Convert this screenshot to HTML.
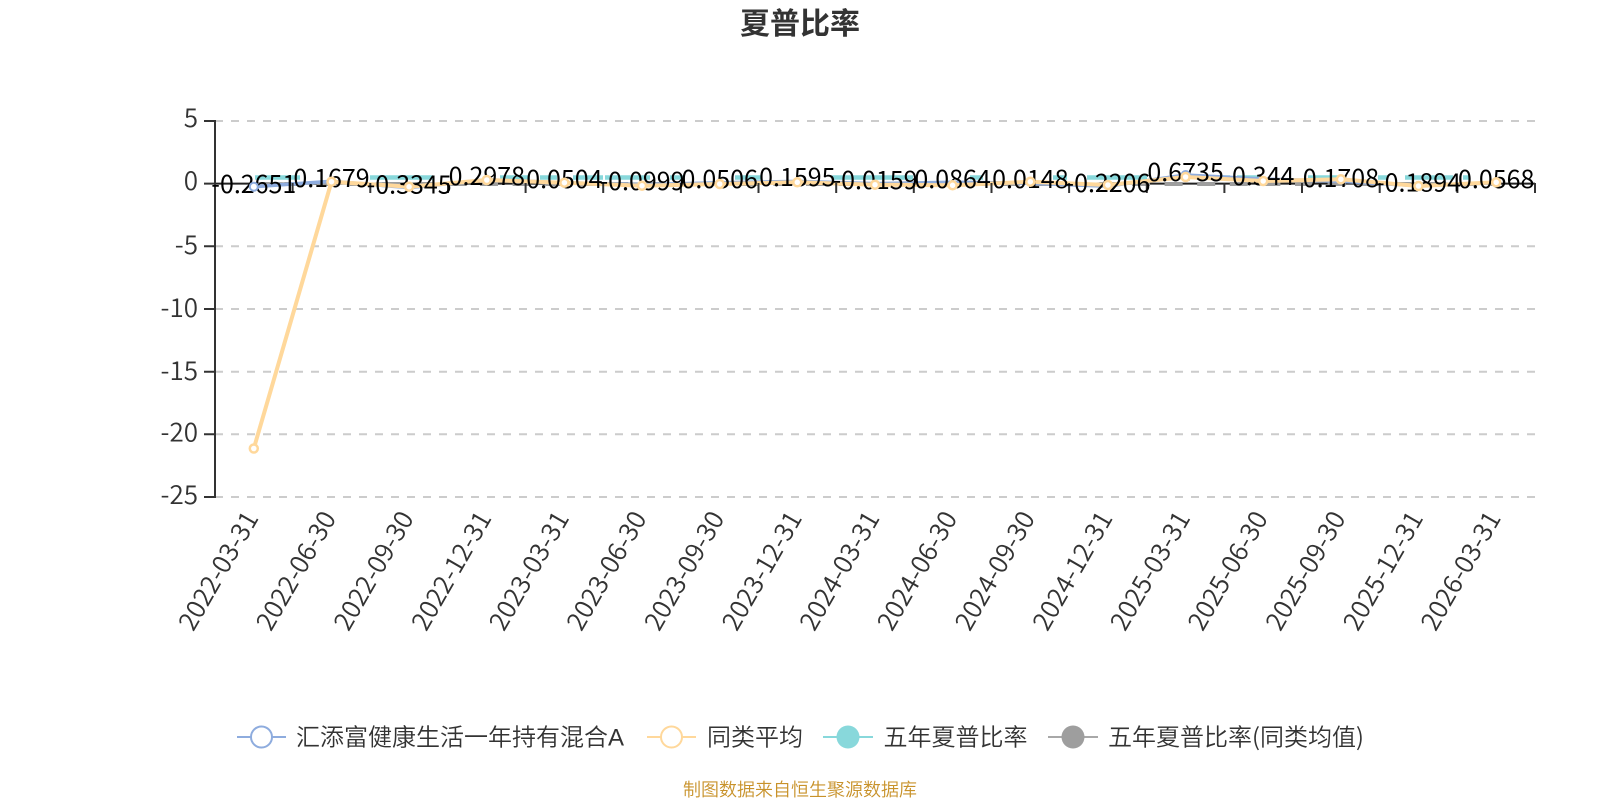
<!DOCTYPE html>
<html><head><meta charset="utf-8"><style>
html,body{margin:0;padding:0;background:#fff}
svg{display:block}
text{font-family:"Liberation Sans","Noto Sans CJK SC",sans-serif}
.n{font-family:"Noto Sans CJK SC",sans-serif;font-size:26px}
.y{fill:#333;text-anchor:end;font-weight:350}
.x{fill:#333;text-anchor:end;font-weight:350}
.l{fill:#000;text-anchor:middle;font-size:25px}
.g{font-family:"Noto Sans CJK SC",sans-serif;font-size:24px;fill:#333;font-weight:350}
</style></head><body>
<svg width="1600" height="800" viewBox="0 0 1600 800" xmlns="http://www.w3.org/2000/svg">
<rect width="1600" height="800" fill="#fff"/>
<text x="800" y="34" text-anchor="middle" style='font-family:"Noto Sans CJK SC",sans-serif;font-size:30px;font-weight:700' fill="#333">夏普比率</text>
<g stroke="#ccc" stroke-width="2" stroke-dasharray="8 8">
<path d="M215 121H1535M215 246.3H1535M215 309H1535M215 371.7H1535M215 434.3H1535M215 497H1535"/>
</g>
<path d="M215 183.6H1535" stroke="#222" stroke-width="2"/>
<g fill="none" stroke-linejoin="round">
<path d="M255 177.5H300M370 177.5H433M500 177.5H530M540 177.5H557M573 177.5H603M605 177.5H650M670 177.5H683M735 177.5H761M832 177.5H913M970 177.5H983M1053 177.5H1067M1087 177.5H1147M1223 177.5H1230M1237 177.5H1258M1308 177.5H1340M1378 177.5H1388M1405 177.5H1453M1463 177.5H1470" stroke="#88d8db" stroke-width="4.5"/>
<path d="M253.8 184H1496" stroke="#9e9e9e" stroke-width="4" stroke-dasharray="18 14.6" stroke-dashoffset="2"/>
<path d="M253.8 186.7L331.5 181.3L409.1 187.6L486.8 179.7L564.4 182.8L642 184.6L719.7 182.8L797.3 181.4L875 183.6L952.6 182.3L1030.3 183.2L1107.9 186.2L1185.6 175L1263.2 179.1L1340.9 181.3L1418.5 185.8L1496.2 182.7" stroke="#8eacde" stroke-width="3.5"/>
<path d="M253.8 448.5L331.5 181.7L409.1 186.7L486.8 180L564.4 182.7L642 185.7L719.7 184L797.3 182.3L875 184.7L952.6 185.3L1030.3 181.7L1107.9 185L1185.6 177L1263.2 181L1340.9 179.3L1418.5 186L1496.2 182.3" stroke="#ffd89b" stroke-width="4"/>
</g>
<path d="M215 120V498" stroke="#333" stroke-width="2"/>
<path d="M204 121H215M204 183.6H215M204 246.3H215M204 309H215M204 371.7H215M204 434.3H215M204 497H215" stroke="#333" stroke-width="2"/>
<path d="M215 183V193M292.6 183V193M370.3 183V193M448 183V193M525.6 183V193M603.2 183V193M680.9 183V193M758.5 183V193M836.2 183V193M913.8 183V193M991.5 183V193M1069.1 183V193M1146.8 183V193M1224.4 183V193M1302 183V193M1379.7 183V193M1457.4 183V193M1535 183V193" stroke="#333" stroke-width="2"/>
<g>
<text class="n y" x="198" y="127">5</text>
<text class="n y" x="198" y="190">0</text>
<text class="n y" x="198" y="254">-5</text>
<text class="n y" x="198" y="317">-10</text>
<text class="n y" x="198" y="380">-15</text>
<text class="n y" x="198" y="441.5">-20</text>
<text class="n y" x="198" y="504">-25</text>
</g>
<g>
<text class="n x" transform="translate(252.3,514) rotate(-60)" dy="8">2022-03-31</text>
<text class="n x" transform="translate(330,514) rotate(-60)" dy="8">2022-06-30</text>
<text class="n x" transform="translate(407.6,514) rotate(-60)" dy="8">2022-09-30</text>
<text class="n x" transform="translate(485.3,514) rotate(-60)" dy="8">2022-12-31</text>
<text class="n x" transform="translate(562.9,514) rotate(-60)" dy="8">2023-03-31</text>
<text class="n x" transform="translate(640.5,514) rotate(-60)" dy="8">2023-06-30</text>
<text class="n x" transform="translate(718.2,514) rotate(-60)" dy="8">2023-09-30</text>
<text class="n x" transform="translate(795.8,514) rotate(-60)" dy="8">2023-12-31</text>
<text class="n x" transform="translate(873.5,514) rotate(-60)" dy="8">2024-03-31</text>
<text class="n x" transform="translate(951.1,514) rotate(-60)" dy="8">2024-06-30</text>
<text class="n x" transform="translate(1028.8,514) rotate(-60)" dy="8">2024-09-30</text>
<text class="n x" transform="translate(1106.4,514) rotate(-60)" dy="8">2024-12-31</text>
<text class="n x" transform="translate(1184.1,514) rotate(-60)" dy="8">2025-03-31</text>
<text class="n x" transform="translate(1261.7,514) rotate(-60)" dy="8">2025-06-30</text>
<text class="n x" transform="translate(1339.4,514) rotate(-60)" dy="8">2025-09-30</text>
<text class="n x" transform="translate(1417,514) rotate(-60)" dy="8">2025-12-31</text>
<text class="n x" transform="translate(1494.7,514) rotate(-60)" dy="8">2026-03-31</text>
</g>
<g>
<text class="n l" x="253.8" y="193">-0.2651</text>
<text class="n l" x="331.5" y="187">0.1679</text>
<text class="n l" x="409.1" y="193.5">-0.3345</text>
<text class="n l" x="486.8" y="185">0.2978</text>
<text class="n l" x="564.4" y="188">0.0504</text>
<text class="n l" x="642" y="190">-0.0999</text>
<text class="n l" x="719.7" y="188">0.0506</text>
<text class="n l" x="797.3" y="186">0.1595</text>
<text class="n l" x="875" y="189">-0.0159</text>
<text class="n l" x="952.6" y="188">0.0864</text>
<text class="n l" x="1030.3" y="188">0.0148</text>
<text class="n l" x="1107.9" y="192">-0.2206</text>
<text class="n l" x="1185.6" y="181">0.6735</text>
<text class="n l" x="1263.2" y="185">0.344</text>
<text class="n l" x="1340.9" y="187">0.1708</text>
<text class="n l" x="1418.5" y="191.5">-0.1894</text>
<text class="n l" x="1496.2" y="188">0.0568</text>
</g>
<g fill="#fff" stroke="#8eacde" stroke-width="2">
<circle cx="253.8" cy="186.7" r="4"/><circle cx="1185.6" cy="175" r="4"/>
</g>
<g fill="#fff" stroke="#ffd89b" stroke-width="2.5">
<circle cx="253.8" cy="448.5" r="4"/><circle cx="331.5" cy="181.7" r="4"/><circle cx="409.1" cy="186.7" r="4"/><circle cx="486.8" cy="180" r="4"/><circle cx="564.4" cy="182.7" r="4"/><circle cx="642" cy="185.7" r="4"/><circle cx="719.7" cy="184" r="4"/><circle cx="797.3" cy="182.3" r="4"/><circle cx="875" cy="184.7" r="4"/><circle cx="952.6" cy="185.3" r="4"/><circle cx="1030.3" cy="181.7" r="4"/><circle cx="1107.9" cy="185" r="4"/><circle cx="1185.6" cy="177" r="4"/><circle cx="1263.2" cy="181" r="4"/><circle cx="1340.9" cy="179.3" r="4"/><circle cx="1418.5" cy="186" r="4"/><circle cx="1496.2" cy="182.3" r="4"/>
</g>
<path d="M237 737H286" stroke="#8eacde" stroke-width="2"/>
<circle cx="261.5" cy="737" r="10.5" fill="#fff" stroke="#8eacde" stroke-width="2"/>
<text class="g" x="296" y="745.5">汇添富健康生活一年持有混合<tspan style='font-family:"Liberation Sans",sans-serif'>A</tspan></text>
<path d="M647 737H696" stroke="#ffd89b" stroke-width="2"/>
<circle cx="671.5" cy="737" r="10.5" fill="#fff" stroke="#ffd89b" stroke-width="2"/>
<text class="g" x="707" y="745.5">同类平均</text>
<path d="M823 737H873" stroke="#88d8db" stroke-width="2"/>
<circle cx="848" cy="737" r="11.5" fill="#88d8db"/>
<text class="g" x="883.5" y="745.5">五年夏普比率</text>
<path d="M1048 737H1098" stroke="#a8a8a8" stroke-width="2"/>
<circle cx="1073" cy="737" r="11.5" fill="#9e9e9e"/>
<text class="g" x="1108" y="745.5">五年夏普比率(同类均值)</text>
<text x="800" y="796" text-anchor="middle" style='font-family:"Noto Sans CJK SC",sans-serif;font-size:18px;font-weight:350' fill="#c8922a">制图数据来自恒生聚源数据库</text>
</svg>
</body></html>
